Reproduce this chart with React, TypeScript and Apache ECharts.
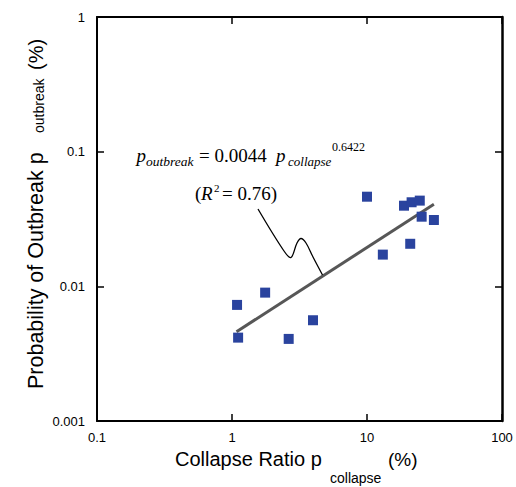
import React, { useEffect, useRef } from "react";
import * as echarts from "echarts";

// ---- data ----
const collapseRatio = [10.0, 18.8, 21.4, 24.6, 25.4, 31.3, 20.9, 13.1, 1.76, 1.09, 1.11, 2.63, 3.98];
const outbreakProb = [0.0463, 0.0397, 0.0421, 0.0433, 0.0329, 0.0311, 0.0207, 0.0172, 0.00898, 0.00728, 0.00416, 0.00407, 0.0056];
const fitLineX = [1.08, 31.3];
const fitLineY = [0.0046, 0.0407];
const xTickRange = [0.1, 100];
const yTickRange = [0.001, 1];

const SANS = "'Liberation Sans', Arial, sans-serif";
const SERIF = "'Liberation Serif', 'Times New Roman', serif";

export default function App() {
  const ref = useRef<HTMLDivElement>(null);

  useEffect(() => {
    if (!ref.current) return;
    const chart = echarts.init(ref.current, null, { renderer: "svg" });

    const axisLine = { show: true, onZero: false, lineStyle: { color: "#000", width: 2 } };
    const axisTick = { show: true, inside: true, length: 7, lineStyle: { color: "#000", width: 1.5 } };
    const labelStyle = { fontFamily: SANS, fontSize: 13, color: "#000" };

    const scatterData = collapseRatio.map((x, i) => [x, outbreakProb[i]]);
    const lineData = fitLineX.map((x, i) => [x, fitLineY[i]]);

    const t = (text: string, x: number, y: number, font: string, size: number, extra: any = {}) => ({
      type: "text",
      x,
      y,
      z: 100,
      silent: true,
      ...extra,
      style: {
        text,
        fontFamily: font,
        fontSize: size,
        fill: "#000",
        align: "left",
        verticalAlign: "middle",
        ...(extra.style || {}),
      },
    });

    const option: any = {
      animation: false,
      backgroundColor: "#fff",
      grid: { left: 97, right: 14, top: 17, bottom: 66, containLabel: false },
      xAxis: [
        {
          type: "log",
          logBase: 10,
          min: xTickRange[0],
          max: xTickRange[1],
          position: "bottom",
          axisLine,
          axisTick,
          minorTick: { show: false },
          splitLine: { show: false },
          axisLabel: { ...labelStyle, margin: 10 },
        },
        {
          type: "log",
          logBase: 10,
          min: xTickRange[0],
          max: xTickRange[1],
          position: "top",
          axisLine,
          axisTick,
          splitLine: { show: false },
          axisLabel: { show: false },
        },
      ],
      yAxis: [
        {
          type: "log",
          logBase: 10,
          min: yTickRange[0],
          max: yTickRange[1],
          position: "left",
          axisLine,
          axisTick,
          splitLine: { show: false },
          axisLabel: { ...labelStyle, margin: 12 },
        },
        {
          type: "log",
          logBase: 10,
          min: yTickRange[0],
          max: yTickRange[1],
          position: "right",
          axisLine: { ...axisLine, lineStyle: { color: "#000", width: 2.5 } },
          axisTick,
          splitLine: { show: false },
          axisLabel: { show: false },
        },
      ],
      series: [
        {
          type: "line",
          data: lineData,
          xAxisIndex: 0,
          yAxisIndex: 0,
          symbol: "none",
          lineStyle: { color: "#575757", width: 3 },
          z: 2,
        },
        {
          type: "scatter",
          data: scatterData,
          xAxisIndex: 0,
          yAxisIndex: 0,
          symbol: "rect",
          symbolSize: 10,
          itemStyle: { color: "#2A439E", opacity: 1 },
          z: 3,
        },
      ],
      graphic: [
        // x-axis title
        t("Collapse Ratio p", 175, 459.4, SANS, 20),
        t("collapse", 330, 478.2, SANS, 14),
        t("(%)", 388, 459.4, SANS, 19),
        // y-axis title (rotated)
        t("Probability of Outbreak p", 35.5, 389, SANS, 21.5, { rotation: Math.PI / 2 }),
        t("outbreak", 39.2, 133, SANS, 14, { rotation: Math.PI / 2 }),
        t("(%)", 36, 70, SANS, 20, { rotation: Math.PI / 2 }),
        // equation annotation
        t("p", 136.5, 155.5, SERIF, 19, { style: { fontStyle: "italic" } }),
        t("outbreak", 146, 161.5, SERIF, 13.5, { style: { fontStyle: "italic" } }),
        t("= 0.0044", 199, 155.5, SERIF, 19),
        t("p", 276, 155.5, SERIF, 19, { style: { fontStyle: "italic" } }),
        t("collapse", 288, 161.5, SERIF, 13, { style: { fontStyle: "italic" } }),
        t("0.6422", 332, 146.5, SERIF, 12),
        t("(", 195, 193.5, SERIF, 19),
        t("R", 201, 193.5, SERIF, 19, { style: { fontStyle: "italic" } }),
        t("2", 214, 188, SERIF, 11),
        t("= 0.76)", 222, 193.5, SERIF, 19),
        {
          type: "polyline",
          z: 100,
          silent: true,
          shape: {
            points: [
              [258, 209],
              [284, 251],
              [291, 257.5],
              [297, 243],
              [301, 238.5],
              [306, 243],
              [313, 257],
              [322.5, 275],
            ],
            smooth: 0.35,
          },
          style: { stroke: "#000", lineWidth: 1.3, fill: null },
        },
      ],
    };

    chart.setOption(option);
    return () => chart.dispose();
  }, []);

  return (
    <div
      ref={ref}
      style={{ position: "fixed", left: 0, top: 0, width: 516, height: 487, background: "#fff" }}
    />
  );
}
